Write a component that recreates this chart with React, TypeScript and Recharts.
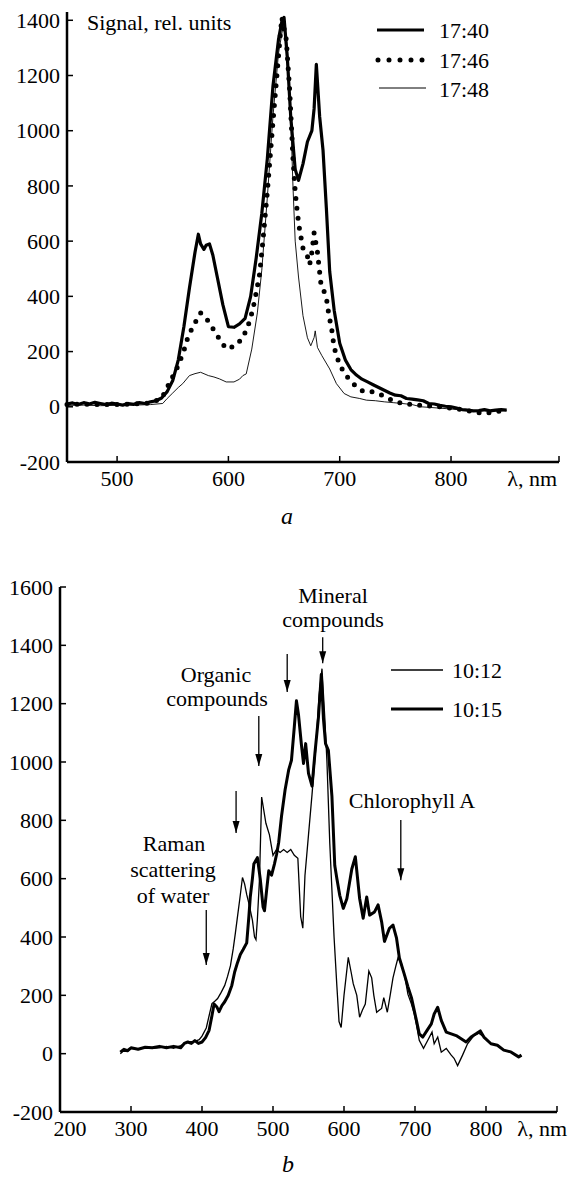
import React from "react";
import { LineChart, Line, XAxis, YAxis, ReferenceLine, ReferenceDot } from "recharts";

const FONT = "'Liberation Serif', 'Times New Roman', Times, serif";

// ---------- panel a ----------
const nm1740 = [
  455, 460, 465, 470, 475, 480, 485, 490, 495, 500,
  505, 510, 515, 520, 525, 530, 535, 540, 545, 550,
  555, 560, 565, 570, 573, 575, 578, 580, 583, 586,
  590, 595, 600, 605, 610, 615, 620, 625, 630, 635,
  640, 645, 648, 650, 653, 656, 660, 663, 667, 671,
  675, 677, 679, 682, 685, 688, 691, 695, 700, 705,
  710, 715, 720, 725, 730, 735, 740, 745, 750, 755,
  760, 765, 770, 775, 780, 785, 790, 795, 800, 805,
  810, 815, 820, 825, 830, 835, 840, 845, 850,
];
const sig1740 = [
  10, 14, 8, 15, 10, 16, 12, 8, 13, 10,
  6, 12, 9, 15, 12, 18, 22, 32, 55, 95,
  170, 290, 430, 560, 625, 590, 570, 585, 590, 550,
  470, 370, 290, 288, 300, 320, 400, 540, 700, 900,
  1160, 1330, 1395, 1410, 1260, 1050, 860, 820, 880, 960,
  1000, 1080, 1240, 1050, 930, 720, 490, 350, 230, 170,
  135, 115, 100, 90, 80, 70, 60, 50, 42, 40,
  30, 28, 25, 22, 12, 10, 5, 2, 0, -5,
  -10, -12, -15, -14, -10, -15, -12, -10, -12,
];

const nm1746 = [
  455, 470, 485, 500, 515, 530, 540, 545, 550, 555,
  560, 564, 570, 575, 582, 588, 593, 598, 606, 613,
  618, 622, 625, 628, 631, 635, 640, 645, 648, 652,
  655, 658, 660, 662, 664, 667, 671, 673, 675, 677,
  680, 683, 688, 690, 693, 695, 700, 707, 715, 721,
  728, 738, 747, 756, 770, 790, 810, 829, 845,
];
const sig1746 = [
  8, 10, 8, 8, 10, 14, 30, 70, 110, 150,
  203, 257, 304, 340, 310, 271, 239, 210, 220, 250,
  298, 352, 414, 480, 600, 780, 1030, 1270, 1410, 1330,
  1150, 900, 780, 700, 640, 575, 545, 515, 560, 630,
  560, 450, 395, 340, 275, 215, 150, 107, 72, 56,
  56, 42, 24, 12, 6, 0, -10, -25, -15,
];

const nm1748 = [
  455, 470, 485, 500, 515, 530, 541, 545, 550, 555,
  559, 565, 570, 575, 582, 587, 592, 598, 605, 610,
  613, 616, 621, 626, 630, 635, 640, 645, 650, 653,
  656, 658, 660, 663, 667, 671, 674, 677, 678, 680,
  684, 691, 697, 704, 710, 718, 724, 732, 740, 748,
  756, 765, 773, 780, 790, 800, 810, 820, 830, 840,
  850,
];
const sig1748 = [
  5, 6, 4, 5, 6, 8, 12, 30, 50, 70,
  84, 113, 120, 125, 113, 108, 101, 90, 90, 100,
  113, 119, 209, 340, 495, 760, 1050, 1280, 1400, 1300,
  1050, 800, 600, 470, 330, 250, 221, 251, 275, 215,
  185, 137, 84, 48, 36, 30, 24, 22, 18, 15,
  12, 8, 0, -2, -5, -8, -12, -15, -15, -15,
  -14,
];

const ticksXA = [500, 600, 700, 800];
const ticksYA = [-200, 0, 200, 400, 600, 800, 1000, 1200, 1400];

// ---------- panel b ----------
const nm1012 = [
  285, 290, 295, 300, 310, 320, 330, 340, 350, 360,
  370, 380, 390, 396, 400, 406, 410, 414, 418, 422,
  427, 432, 436, 440, 444, 447, 450, 453, 457, 460,
  463, 466, 471, 474, 476, 478, 481, 484, 490, 495,
  500, 505, 510, 515, 520, 525, 530, 535, 539, 542,
  545, 550, 555, 560, 565, 569, 573, 576, 580, 583,
  586, 590, 593, 596, 600, 606, 610, 613, 618, 622,
  626, 630, 635, 639, 642, 646, 650, 653, 656, 661,
  665, 669, 673, 676, 681, 686, 690, 695, 699, 702,
  706, 712, 718, 724, 727, 732, 737, 744, 751, 755,
  760, 767, 774, 783, 790, 797, 807, 816, 825, 835,
  846, 850,
];
const sig1012 = [
  0, 12, 8, 18, 15, 22, 18, 20, 25, 18,
  28, 40, 42, 48, 60, 88, 130, 172, 180, 189,
  210, 234, 265, 301, 360, 413, 470, 526, 604, 582,
  545, 515, 458, 400, 391, 460, 600, 880, 790, 750,
  680, 700, 690, 700, 690, 700, 680, 670, 470, 430,
  610, 750, 890, 1040, 1230, 1320, 1150, 1000, 720, 560,
  400, 230, 110, 90, 200, 330, 280, 240, 200, 125,
  150, 170, 283, 260, 200, 142, 150, 155, 192, 142,
  200, 260, 300, 328, 308, 260, 204, 170, 136, 100,
  46, 18, 46, 74, 34, 57, 5, 18, -5, -16,
  -41, -5, 34, 62, 70, 57, 34, 29, 12, 6,
  -11, -8,
];

const nm1015 = [
  285, 290, 295, 300, 310, 320, 330, 340, 350, 360,
  370, 375, 380, 385, 390, 395, 400, 405, 410, 414,
  417, 421, 424, 428, 432, 437, 442, 446, 450, 454,
  458, 463, 466, 468, 471, 473, 478, 482, 486, 488,
  491, 494, 498, 502, 505, 508, 512, 517, 522, 526,
  530, 533, 536, 540, 543, 546, 550, 555, 559, 564,
  568, 571, 574, 578, 583, 587, 590, 594, 599, 604,
  611, 616, 622, 627, 632, 636, 643, 648, 653, 657,
  664, 669, 674, 678, 685, 690, 695, 702, 706, 711,
  717, 723, 727, 732, 737, 744, 751, 758, 765, 772,
  779, 786, 792, 797, 807, 816, 825, 835, 846, 850,
];
const sig1015 = [
  5, 15, 10, 20, 15, 22, 20, 25, 20, 25,
  20, 35, 40, 35, 45, 35, 40, 55, 80, 130,
  170, 160, 144, 165, 178, 200, 234, 280, 312, 340,
  357, 380, 470, 537, 600, 650, 672, 600, 503, 490,
  560, 627, 612, 650, 683, 724, 814, 904, 972, 1006,
  1120, 1210, 1160, 1060, 995, 1063, 961, 917, 1029, 1153,
  1300, 1150, 1063, 1040, 882, 645, 600, 543, 498, 531,
  633, 675, 532, 464, 537, 475, 486, 510, 452, 385,
  430, 441, 396, 328, 272, 230, 192, 114, 68, 57,
  80, 102, 136, 159, 114, 74, 68, 62, 51, 40,
  57, 68, 78, 57, 34, 29, 12, 6, -11, -5,
];

const ticksXB = [200, 300, 400, 500, 600, 700, 800];
const ticksYB = [-200, 0, 200, 400, 600, 800, 1000, 1200, 1400, 1600];

// arrows in panel b: wavelength, start of shaft, tip (signal units)
const arrowNm = [406, 448, 480, 520, 570, 680];
const arrowTop = [493, 901, 1158, 1370, 1428, 801];
const arrowTip = [304, 757, 986, 1240, 1339, 595];

const zip = (xs: number[], ys: number[]) => xs.map((x, i) => ({ nm: x, v: ys[i] }));

const textStyle = { fontFamily: FONT, fontSize: 22, fill: "#000" };

const makeXTick = (unitAt: number, unitDx: number, firstAt: number, firstDx: number) => (p: any) => {
  const { x, y, payload } = p;
  const isUnit = payload.value === unitAt;
  const dx = isUnit ? unitDx : payload.value === firstAt ? firstDx : 0;
  return (
    <g>
      <line x1={x} x2={x} y1={y} y2={y - 6} stroke="#000" strokeWidth={1.5} />
      <text x={x + dx} y={y + 24} textAnchor={isUnit ? "end" : "middle"} style={textStyle}>
        {isUnit ? "λ, nm" : payload.value}
      </text>
    </g>
  );
};

const YTick = (p: any) => {
  const { x, y, payload } = p;
  return (
    <g>
      <line x1={x} x2={x + 6} y1={y} y2={y} stroke="#000" strokeWidth={1.5} />
      <text x={x - 7} y={y} dy="0.35em" textAnchor="end" style={textStyle}>
        {payload.value}
      </text>
    </g>
  );
};

const ArrowHead = (p: any) => (
  <path d={`M${p.cx - 3.5},${p.cy - 12} L${p.cx + 3.5},${p.cy - 12} L${p.cx},${p.cy} Z`} fill="#000" />
);

const txt = (x: number, y: number, s: string, anchor: "start" | "middle" = "middle") => (
  <text x={x} y={y} dy="0.35em" textAnchor={anchor} style={textStyle}>
    {s}
  </text>
);

export default function App() {
  const maxA = 897;
  const maxB = 900;
  return (
    <div style={{ position: "absolute", left: 0, top: 0, width: 573, height: 1180, background: "#fff", fontFamily: FONT }}>
      <div style={{ position: "absolute", left: 0, top: 0 }}>
        <LineChart width={573} height={500} margin={{ top: 12, right: 14, bottom: 8, left: 7 }}>
          <XAxis
            dataKey="nm"
            type="number"
            domain={[455, maxA]}
            ticks={[...ticksXA, maxA]}
            interval={0}
            height={30}
            tickSize={0}
            tickMargin={0}
            axisLine={{ stroke: "#000", strokeWidth: 2.5 }}
            tick={makeXTick(maxA, -2, 0, 0)}
          />
          <YAxis
            type="number"
            domain={[-200, 1430]}
            ticks={ticksYA}
            interval={0}
            width={60}
            tickSize={0}
            tickMargin={0}
            axisLine={{ stroke: "#000", strokeWidth: 2.5 }}
            tick={YTick}
          />
          <Line data={zip(nm1748, sig1748)} dataKey="v" type="linear" dot={false} stroke="#000" strokeWidth={0.9} isAnimationActive={false} />
          <Line data={zip(nm1746, sig1746)} dataKey="v" type="linear" dot={false} stroke="#000" strokeWidth={5} strokeDasharray="0 10" strokeLinecap="round" isAnimationActive={false} />
          <Line data={zip(nm1740, sig1740)} dataKey="v" type="linear" dot={false} stroke="#000" strokeWidth={3.2} strokeLinejoin="round" isAnimationActive={false} />
        </LineChart>
      </div>

      <div style={{ position: "absolute", left: 0, top: 560 }}>
        <LineChart width={573} height={600} margin={{ top: 27, right: 16, bottom: 18, left: 0 }}>
          <XAxis
            dataKey="nm"
            type="number"
            domain={[200, maxB]}
            ticks={[...ticksXB, maxB]}
            interval={0}
            height={30}
            tickSize={0}
            tickMargin={0}
            axisLine={{ stroke: "#000", strokeWidth: 2.5 }}
            tick={makeXTick(maxB, 10, 200, 10)}
          />
          <YAxis
            type="number"
            domain={[-200, 1600]}
            ticks={ticksYB}
            interval={0}
            width={60}
            tickSize={0}
            tickMargin={0}
            axisLine={{ stroke: "#000", strokeWidth: 2.5 }}
            tick={YTick}
          />
          <Line data={zip(nm1012, sig1012)} dataKey="v" type="linear" dot={false} stroke="#000" strokeWidth={1.3} isAnimationActive={false} />
          <Line data={zip(nm1015, sig1015)} dataKey="v" type="linear" dot={false} stroke="#000" strokeWidth={3} strokeLinejoin="round" isAnimationActive={false} />
          {arrowNm.map((nm, i) => (
            <ReferenceLine
              key={"l" + i}
              segment={[{ x: nm, y: arrowTop[i] }, { x: nm, y: arrowTip[i] }]}
              stroke="#000"
              strokeWidth={1.3}
            />
          ))}
          {arrowNm.map((nm, i) => (
            <ReferenceDot key={"d" + i} x={nm} y={arrowTip[i]} r={0} shape={ArrowHead} />
          ))}
        </LineChart>
      </div>

      <svg width={573} height={1180} style={{ position: "absolute", left: 0, top: 0, pointerEvents: "none" }}>
        {txt(87, 22, "Signal, rel. units", "start")}
        <line x1={377} x2={424} y1={30} y2={30} stroke="#000" strokeWidth={3.2} />
        <line x1={378} x2={424} y1={60} y2={60} stroke="#000" strokeWidth={5} strokeDasharray="0 11" strokeLinecap="round" />
        <line x1={379} x2={426} y1={88} y2={88} stroke="#000" strokeWidth={1} />
        {txt(439, 30, "17:40", "start")}
        {txt(439, 60, "17:46", "start")}
        {txt(439, 89, "17:48", "start")}
        <text x={287} y={524} textAnchor="middle" style={{ ...textStyle, fontSize: 24, fontStyle: "italic" }}>a</text>

        {txt(333, 595, "Mineral")}
        {txt(333, 619, "compounds")}
        {txt(216, 674, "Organic")}
        {txt(217, 698, "compounds")}
        {txt(174, 843, "Raman")}
        {txt(173, 869, "scattering")}
        {txt(173, 895, "of water")}
        {txt(412, 800, "Chlorophyll A")}
        <line x1={391} x2={443} y1={670} y2={670} stroke="#000" strokeWidth={1.3} />
        <line x1={391} x2={443} y1={709} y2={709} stroke="#000" strokeWidth={3} />
        {txt(452, 670, "10:12", "start")}
        {txt(452, 709, "10:15", "start")}
        <text x={288} y={1172} textAnchor="middle" style={{ ...textStyle, fontSize: 24, fontStyle: "italic" }}>b</text>
      </svg>
    </div>
  );
}
